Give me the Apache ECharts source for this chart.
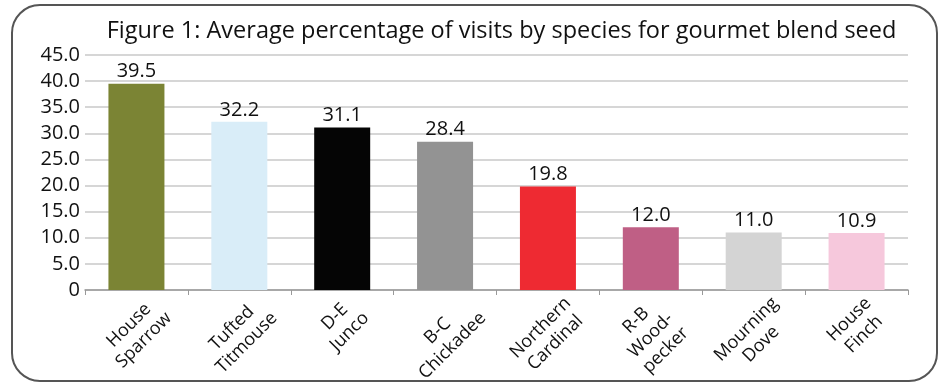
<!DOCTYPE html>
<html>
<head>
<meta charset="utf-8">
<script src="https://cdn.jsdelivr.net/npm/echarts@6/dist/echarts.min.js"></script>
<style>
  html, body { margin: 0; padding: 0; background: #fff; }
  #chart { width: 946px; height: 383px; }
</style>
</head>
<body>
<div id="chart"></div>
<script>
const species = ['House\nSparrow', 'Tufted\nTitmouse', 'D-E\nJunco', 'B-C\nChickadee',
  'Northern\nCardinal', 'R-B\nWood-\npecker', 'Mourning\nDove', 'House\nFinch'];
const visits = [39.5, 32.2, 31.1, 28.4, 19.8, 12.0, 11.0, 10.9];
const barColors = ['#7b8434', '#d9edf8', '#050505', '#939393', '#ee2a32', '#bf5f85', '#d4d4d4', '#f6c8dc'];
const yTicks = [0, 5, 10, 15, 20, 25, 30, 35, 40, 45];
const titleText = 'Figure 1: Average percentage of visits by species for gourmet blend seed';

const font = '"Open Sans", Lato, sans-serif';
const titleSize = 23.5;
const catFontSize = 18;
const catLineHeight = 21;

// measure text widths so the rotated category labels can be centred like Excel does
const ctx = document.createElement('canvas').getContext('2d');
function textWidth(str, size) {
  ctx.font = size + 'px ' + font;
  return ctx.measureText(str).width;
}

const gridLeft = 85, gridRight = 38;
const titleLeft = (gridLeft + (946 - gridRight)) / 2 - textWidth(titleText, titleSize) / 2;

const chart = echarts.init(document.getElementById('chart'));
chart.setOption({
  animation: false,
  backgroundColor: '#fff',
  title: {
    text: titleText,
    left: titleLeft,
    top: 14,
    textStyle: { color: '#111', fontSize: titleSize, fontWeight: 'normal', fontFamily: font }
  },
  grid: { left: gridLeft, right: gridRight, top: 55, bottom: 93 },
  xAxis: {
    type: 'category',
    data: species,
    axisLine: { lineStyle: { color: '#999', width: 1.5 } },
    axisTick: { show: true, length: 5, lineStyle: { color: '#999' } },
    axisLabel: { show: false }
  },
  yAxis: {
    type: 'value',
    min: yTicks[0],
    max: yTicks[yTicks.length - 1],
    interval: 5,
    axisLine: { show: false },
    axisTick: { show: false },
    splitLine: { lineStyle: { color: '#c8c8c8', width: 1.5 } },
    axisLabel: {
      color: '#111',
      fontSize: 20,
      fontFamily: font,
      margin: 5,
      formatter: v => v === 0 ? '0' : v.toFixed(1)
    }
  },
  series: [{
    type: 'bar',
    barWidth: 56,
    data: visits.map((v, i) => ({ value: v, itemStyle: { color: barColors[i] } })),
    label: {
      show: true,
      position: 'top',
      distance: 2,
      color: '#111',
      fontSize: 20,
      fontFamily: font,
      formatter: p => p.value.toFixed(1)
    }
  }]
});

// rotated category labels: lines centred, rotated box centred under its tick
const axisY = chart.convertToPixel({ yAxisIndex: 0 }, 0);
const k = Math.SQRT1_2;
const labels = species.map((name, i) => {
  const c = chart.convertToPixel({ xAxisIndex: 0 }, i);
  const lines = name.split('\n');
  const W = Math.max(...lines.map(l => textWidth(l, catFontSize)));
  const H = lines.length * catLineHeight;
  return {
    type: 'text',
    x: c - k * H / 2,
    y: axisY + 3 + k * W / 2,
    rotation: Math.PI / 4,
    silent: true,
    style: {
      text: name,
      fill: '#111',
      font: catFontSize + 'px ' + font,
      lineHeight: catLineHeight,
      align: 'center',
      verticalAlign: 'top'
    }
  };
});

chart.setOption({
  graphic: [{
    type: 'rect',
    shape: { x: 12, y: 5, width: 925, height: 376, r: 28 },
    style: { fill: 'none', stroke: '#555', lineWidth: 2 },
    silent: true
  }].concat(labels)
});
</script>
</body>
</html>
